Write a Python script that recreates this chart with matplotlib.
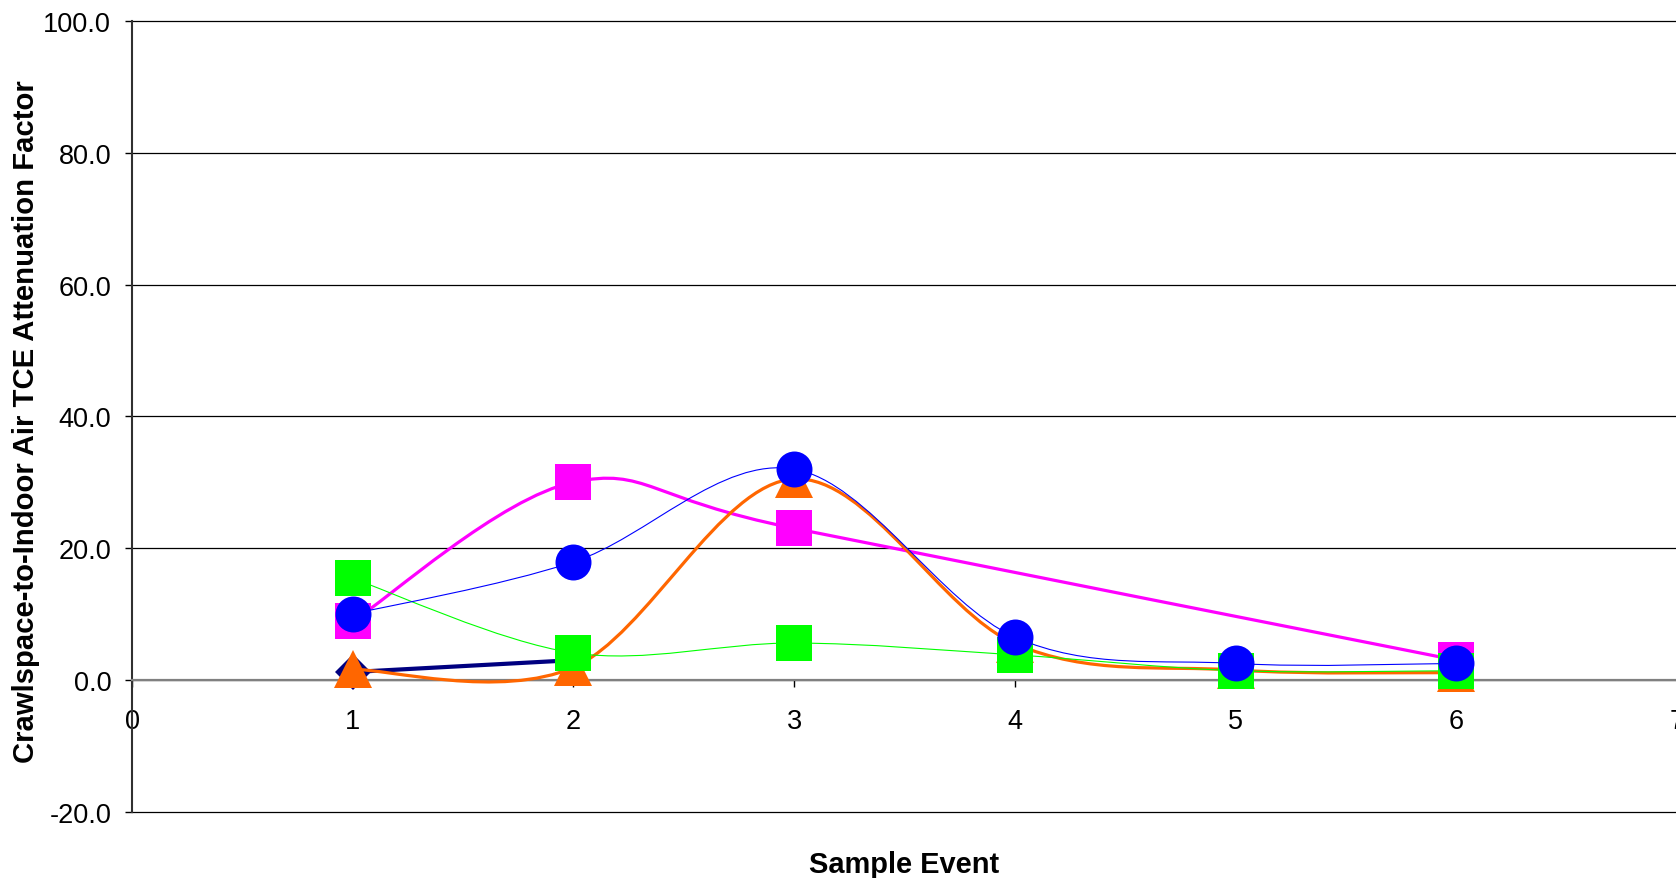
import numpy as np
import matplotlib
matplotlib.use("Agg")
import matplotlib.pyplot as plt
from matplotlib.path import Path
from matplotlib.patches import PathPatch

# Attenuation factors per sample event
navy_x = [1, 2]
navy_y = [1.2, 3.0]
magenta_x = [1, 2, 3, 6]
magenta_y = [8.9, 30.0, 23.0, 3.0]
events = [1, 2, 3, 4, 5, 6]
orange_y = [1.6, 1.9, 30.5, 5.5, 1.5, 1.1]
green_y = [15.4, 4.1, 5.6, 3.8, 1.4, 1.4]
blue_y = [10.0, 17.9, 32.0, 6.5, 2.5, 2.5]

x_ticks = list(range(0, 8))
y_ticks = list(range(-20, 101, 20))

plt.rcParams['font.family'] = ['Liberation Sans', 'DejaVu Sans']


def smooth_path(xs, ys):
    """Bezier path through the points with Catmull-Rom style control points."""
    pts = np.column_stack([xs, ys]).astype(float)
    n = len(pts)
    verts = [pts[0]]
    codes = [Path.MOVETO]
    for i in range(n - 1):
        p0 = pts[i - 1] if i > 0 else pts[i]
        p1 = pts[i]
        p2 = pts[i + 1]
        p3 = pts[i + 2] if i + 2 < n else pts[i + 1]
        c1 = p1 + (p2 - p0) / 6.0
        c2 = p2 - (p3 - p1) / 6.0
        verts += [c1, c2, p2]
        codes += [Path.CURVE4] * 3
    return Path(verts, codes)


W, H = 1676, 879
fig = plt.figure(figsize=(W / 100, H / 100), dpi=100)
left_px, right_px, top_px, bot_px = 132, 1677, 22, 812.7
ax = fig.add_axes([left_px / W, 1 - bot_px / H,
                   (right_px - left_px) / W, (bot_px - top_px) / H])

ax.set_xlim(0, 7)
ax.set_ylim(-20, 100)

series = [
    (navy_x, navy_y, '#000080', 3.0, 'D', 18.8, False),
    (magenta_x, magenta_y, '#FF00FF', 2.3, 's', 25.9, True),
    (events, orange_y, '#FF6600', 2.3, '^', 27.0, True),
    (events, green_y, '#00FF00', 0.8, 's', 25.9, True),
    (events, blue_y, '#0000FF', 0.8, 'o', 25.9, True),
]

z = 3
for xs, ys, color, lw, marker, ms, smooth in series:
    if smooth:
        patch = PathPatch(smooth_path(xs, ys), facecolor='none',
                          edgecolor=color, lw=lw, zorder=z, capstyle='round',
                          joinstyle='round')
        ax.add_patch(patch)
    else:
        ax.plot(xs, ys, color=color, lw=lw, zorder=z)
    ax.plot(xs, ys, linestyle='none', marker=marker, markersize=ms,
            markerfacecolor=color, markeredgewidth=0, zorder=z + 0.5,
            clip_on=False)
    z += 1

# Axes styling
ax.set_xticks(x_ticks)
ax.set_xticklabels([str(v) for v in x_ticks])
ax.set_yticks(y_ticks)
ax.set_yticklabels([f"{v:.1f}" for v in y_ticks])

ax.yaxis.grid(True, color='black', lw=0.9)
ax.set_axisbelow(True)
for gl in ax.get_ygridlines():
    gl.set_clip_on(False)

ax.spines['top'].set_visible(False)
ax.spines['right'].set_visible(False)
ax.spines['bottom'].set_position(('data', 0))
ax.spines['bottom'].set_color('#808080')
ax.spines['bottom'].set_linewidth(1.6)
ax.spines['bottom'].set_zorder(2.6)
ax.spines['left'].set_color('#303030')
ax.spines['left'].set_linewidth(1.5)

ax.tick_params(axis='x', direction='out', length=5, width=1, colors='black',
               labelsize=19.5, pad=15)
ax.tick_params(axis='y', direction='out', length=5, width=1, colors='black',
               labelsize=19.5, pad=10)

ax.set_xlabel('Sample Event', fontsize=20.9, fontweight='bold',
              va='center', ha='center')
ax.xaxis.set_label_coords(0.5, -0.066)
ax.set_ylabel('Crawlspace-to-Indoor Air TCE Attenuation Factor', fontsize=21.1,
              fontweight='bold', va='center', ha='center')
ax.yaxis.set_label_coords(-0.0686, 0.495)

fig.savefig('out.png', dpi=100)
